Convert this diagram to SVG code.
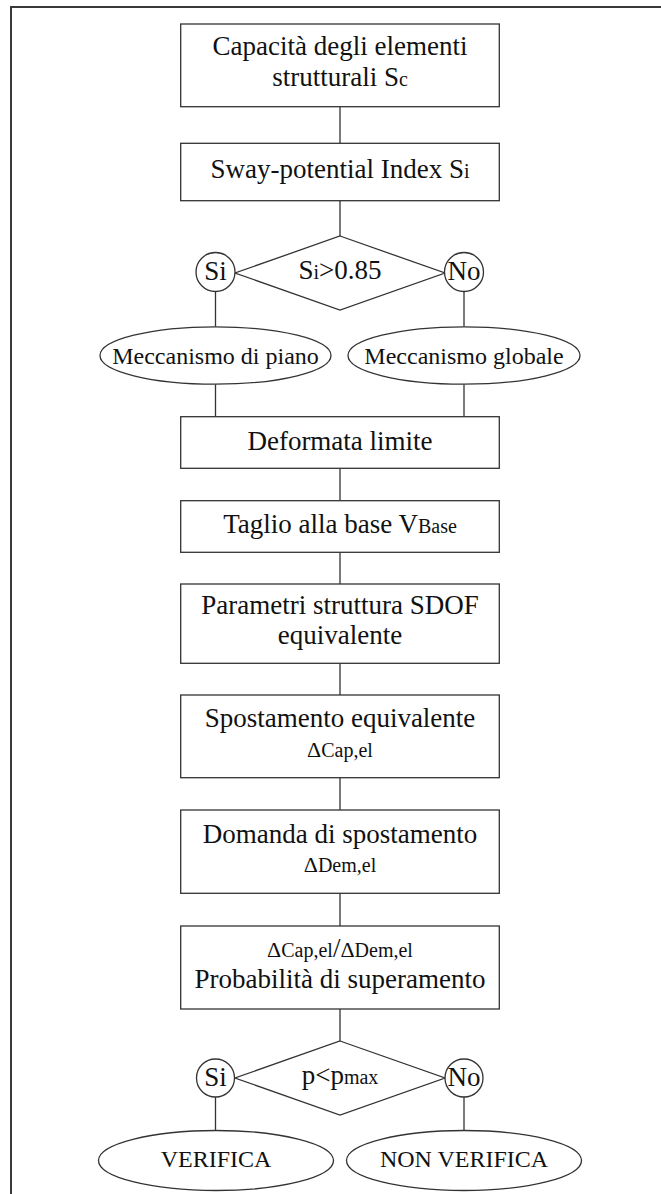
<svg xmlns="http://www.w3.org/2000/svg" width="661" height="1194" viewBox="0 0 661 1194">
<defs>
<style>
.frame{fill:none;stroke:#3a3a3a;stroke-width:2}
.box{fill:#fff;stroke:#333;stroke-width:1.3}
.ln{fill:none;stroke:#333;stroke-width:1.3}
.t{font-family:"Liberation Serif","Times New Roman",serif;font-size:27px;fill:#111;text-anchor:middle}
.te{font-family:"Liberation Serif","Times New Roman",serif;font-size:24px;fill:#111;text-anchor:middle}
.s{font-size:20px}
.d{font-size:22px}
</style>
</defs>
<rect width="661" height="1194" fill="#fff"/>
<rect class="frame" x="11" y="7" width="700" height="1250"/>
<g id="connectors">
<line class="ln" x1="340" y1="106.7" x2="340" y2="143.3"/>
<line class="ln" x1="340" y1="200.7" x2="340" y2="236"/>
<line class="ln" x1="215.5" y1="291.5" x2="215.5" y2="326.8"/>
<line class="ln" x1="464" y1="291.5" x2="464" y2="326.8"/>
<line class="ln" x1="215.5" y1="384.2" x2="215.5" y2="416.7"/>
<line class="ln" x1="464" y1="384.2" x2="464" y2="416.7"/>
<line class="ln" x1="340" y1="468.3" x2="340" y2="500.7"/>
<line class="ln" x1="340" y1="552.3" x2="340" y2="584"/>
<line class="ln" x1="340" y1="663.3" x2="340" y2="695"/>
<line class="ln" x1="340" y1="777.7" x2="340" y2="810"/>
<line class="ln" x1="340" y1="893.3" x2="340" y2="926"/>
<line class="ln" x1="340" y1="1009" x2="340" y2="1041"/>
<line class="ln" x1="215.5" y1="1097" x2="215.5" y2="1130.7"/>
<line class="ln" x1="464" y1="1097" x2="464" y2="1130.7"/>
</g>
<g id="n1">
<rect class="box" x="180.7" y="24" width="318.6" height="82.7"/>
<text class="t" x="340" y="55">Capacità degli elementi</text>
<text class="t" x="340" y="86">strutturali S<tspan class="s">c</tspan></text>
</g>
<g id="n2">
<rect class="box" x="180.7" y="143.3" width="318.6" height="57.4"/>
<text class="t" x="340" y="178">Sway-potential Index S<tspan class="s">i</tspan></text>
</g>
<g id="d1">
<polygon class="box" points="340,236 445,273 340,310 235,273"/>
<text class="t" x="340" y="279">S<tspan class="s">i</tspan>&gt;0.85</text>
</g>
<g id="c1si">
<circle class="box" cx="215.5" cy="272" r="19.5"/>
<text class="t" x="215.5" y="280">Si</text>
</g>
<g id="c1no">
<circle class="box" cx="464" cy="272" r="19.5"/>
<text class="t" x="464" y="280">No</text>
</g>
<g id="e1">
<ellipse class="box" cx="215.5" cy="355.5" rx="115.5" ry="28.7"/>
<text class="te" x="215.5" y="363.5">Meccanismo di piano</text>
</g>
<g id="e2">
<ellipse class="box" cx="464" cy="355.5" rx="116" ry="28.7"/>
<text class="te" x="464" y="363.5">Meccanismo globale</text>
</g>
<g id="n3">
<rect class="box" x="180.7" y="416.7" width="318.6" height="51.6"/>
<text class="t" x="340" y="449.5">Deformata limite</text>
</g>
<g id="n4">
<rect class="box" x="180.7" y="500.7" width="318.6" height="51.6"/>
<text class="t" x="340" y="532.5">Taglio alla base V<tspan class="s">Base</tspan></text>
</g>
<g id="n5">
<rect class="box" x="180.7" y="584" width="318.6" height="79.3"/>
<text class="t" x="340" y="614">Parametri struttura SDOF</text>
<text class="t" x="340" y="644">equivalente</text>
</g>
<g id="n6">
<rect class="box" x="180.7" y="695" width="318.6" height="82.7"/>
<text class="t" x="340" y="727">Spostamento equivalente</text>
<text class="t" x="340" y="757"><tspan class="d">Δ</tspan><tspan class="s">Cap,el</tspan></text>
</g>
<g id="n7">
<rect class="box" x="180.7" y="810" width="318.6" height="83.3"/>
<text class="t" x="340" y="843">Domanda di spostamento</text>
<text class="t" x="340" y="872"><tspan class="d">Δ</tspan><tspan class="s">Dem,el</tspan></text>
</g>
<g id="n8">
<rect class="box" x="180.7" y="926" width="318.6" height="83"/>
<text class="t" x="340" y="957"><tspan class="d">Δ</tspan><tspan class="s">Cap,el</tspan>/<tspan class="d">Δ</tspan><tspan class="s">Dem,el</tspan></text>
<text class="t" x="340" y="988">Probabilità di superamento</text>
</g>
<g id="d2">
<polygon class="box" points="340,1041 445,1078 340,1115 235,1078"/>
<text class="t" x="340" y="1084">p&lt;p<tspan class="s">max</tspan></text>
</g>
<g id="c2si">
<circle class="box" cx="215.5" cy="1078" r="19"/>
<text class="t" x="215.5" y="1086">Si</text>
</g>
<g id="c2no">
<circle class="box" cx="464" cy="1078" r="19"/>
<text class="t" x="464" y="1086">No</text>
</g>
<g id="e3">
<ellipse class="box" cx="216" cy="1160.5" rx="117.5" ry="30"/>
<text class="te" x="216" y="1167">VERIFICA</text>
</g>
<g id="e4">
<ellipse class="box" cx="464" cy="1160.5" rx="117.5" ry="30"/>
<text class="te" x="464" y="1167">NON VERIFICA</text>
</g>
</svg>
